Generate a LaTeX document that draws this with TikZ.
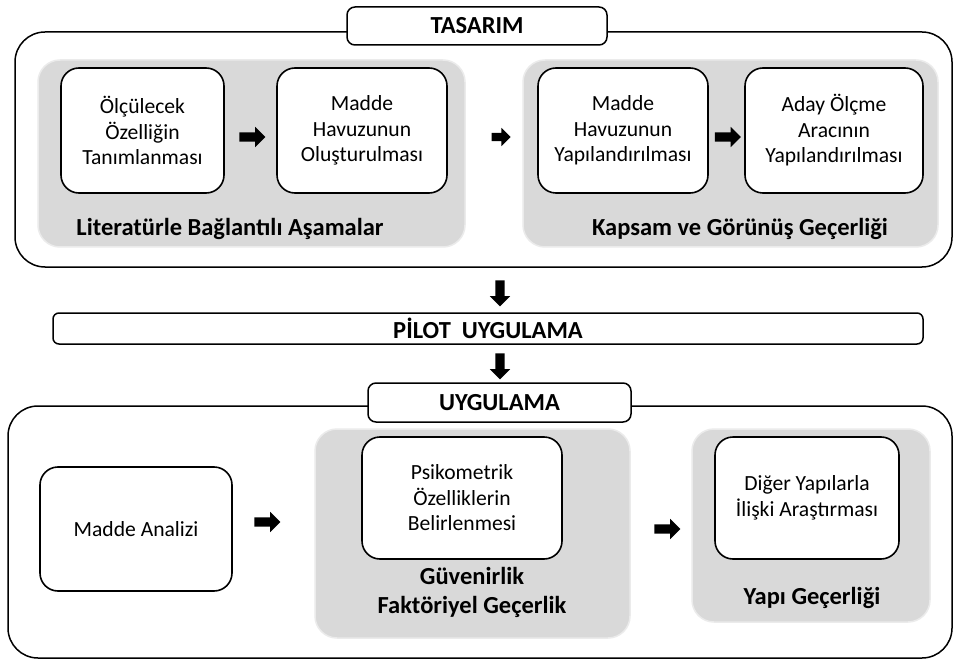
\documentclass[tikz,border=0pt]{standalone}
\usepackage{fontspec}
\setmainfont{Carlito}
\usetikzlibrary{shapes.arrows,calc}
\tikzset{
  stepbox/.style={draw,line width=1.6pt,fill=white,rounded corners=18pt,
    align=center,inner sep=2pt,font=\fontsize{21.6}{25.5}\selectfont},
  groupbox/.style={draw=black!8,line width=1.5pt,fill=black!15,rounded corners=22pt},
  phasebox/.style={draw,line width=1.5pt,fill=white,rounded corners=30pt},
  titlebox/.style={draw,line width=1.5pt,fill=white,rounded corners=8pt,
    font=\fontsize{24.5}{29}\selectfont\bfseries},
  grouplabel/.style={align=center,font=\fontsize{24.5}{29}\selectfont\bfseries},
  harrow/.style={single arrow,fill=black,draw=none,inner xsep=0pt,inner ysep=4.5pt,
    minimum height=26pt,single arrow head extend=5.5pt},
  varrow/.style={harrow,shape border rotate=270,inner xsep=4.5pt,inner ysep=0pt}
}
\begin{document}
\begin{tikzpicture}[x=1pt,y=-1pt]
  \useasboundingbox (0,0) rectangle (955,660);

  % tasarim
  \node[phasebox,minimum width=937pt,minimum height=235pt] (tasarimbox) at (483.5,149.5) {};
  \node[titlebox,minimum width=260pt,minimum height=38pt] (tasarim) at (477,26) {TASARIM};
  \node[groupbox,minimum width=427pt,minimum height=187pt] (literatur) at (251.5,153.5) {};
  \node[groupbox,minimum width=415pt,minimum height=187pt] (kapsam) at (730.5,153.5) {};
  \node[stepbox,minimum width=163pt,minimum height=125pt] (olcu) at (142.5,130.5)
    {Ölçülecek\\Özelliğin\\Tanımlanması};
  \node[stepbox,minimum width=170pt,minimum height=125pt] (havuz) at (362,130.5)
    {Madde\\Havuzunun\\Oluşturulması};
  \node[stepbox,minimum width=170pt,minimum height=125pt] (yapi) at (623,130.5)
    {Madde\\Havuzunun\\Yapılandırılması};
  \node[stepbox,minimum width=178pt,minimum height=125pt] (aday) at (834,130.5)
    {Aday Ölçme\\Aracının\\Yapılandırılması};
  \node[grouplabel] (literaturlabel) at (230,229) {Literatürle Bağlantılı Aşamalar};
  \node[grouplabel] (kapsamlabel) at (740,229) {Kapsam ve Görünüş Geçerliği};
  \node[harrow] (a1) at (250,137) {};
  \node[harrow,minimum height=19pt,inner ysep=4pt,single arrow head extend=5pt] (a2) at (499,137) {};
  \node[harrow] (a3) at (725.5,137) {};

  % pilot
  \node[varrow] (d1) at (500,291) {};
  \node[titlebox,rounded corners=6pt,minimum width=870pt,minimum height=31pt] (pilot)
    at (488,328.5) {PİLOT\ \ UYGULAMA};
  \node[varrow] (d2) at (500,364) {};

  % uygulama
  \node[phasebox,minimum width=944pt,minimum height=252pt] (uygbox) at (480,532) {};
  \node[titlebox,minimum width=263pt,minimum height=39pt] (uyg) at (499.5,402.5) {UYGULAMA};
  \node[groupbox,minimum width=315pt,minimum height=209pt] (guven) at (472.5,533.5) {};
  \node[groupbox,minimum width=238pt,minimum height=193pt] (yapigec) at (811,525.5) {};
  \node[stepbox,minimum width=192pt,minimum height=124pt] (analiz) at (136,529) {Madde Analizi};
  \node[stepbox,minimum width=200pt,minimum height=122pt] (psiko) at (462,498)
    {Psikometrik\\Özelliklerin\\Belirlenmesi};
  \node[stepbox,minimum width=184pt,minimum height=122pt] (diger) at (807,498)
    {Diğer Yapılarla\\İlişki Araştırması};
  \node[grouplabel] (guvenlabel) at (472,592) {Güvenirlik\\Faktöriyel Geçerlik};
  \node[grouplabel] (yapilabel) at (812,598) {Yapı Geçerliği};
  \node[harrow] (a4) at (265,522) {};
  \node[harrow] (a5) at (665,529) {};
\end{tikzpicture}
\end{document}
